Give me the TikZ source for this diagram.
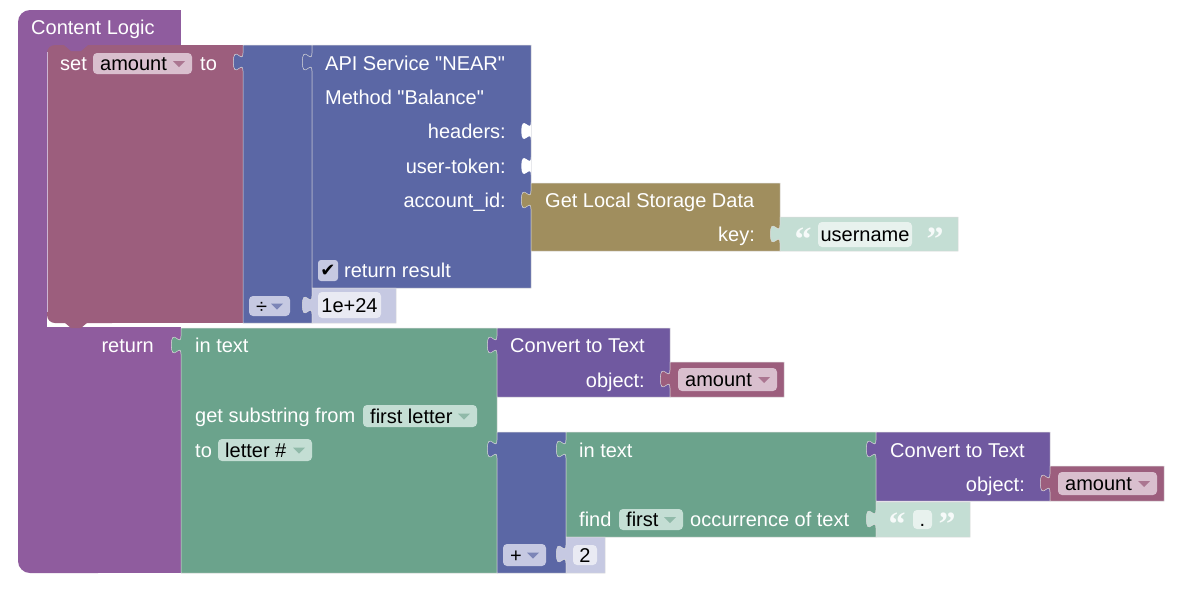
\documentclass[tikz,border=0pt]{standalone}
\usepackage{fontspec}
\newfontfamily\mainf{Liberation Sans}
\newfontfamily\symfont{DejaVu Sans}
\newfontfamily\qfont{Liberation Serif}
\newcommand\blkfont{\mainf\fontsize{20}{24}\selectfont}
\definecolor{clP}{HTML}{8F5C9E}
\definecolor{setM}{HTML}{9C5E7D}
\definecolor{mathB}{HTML}{5B67A5}
\definecolor{shB}{HTML}{C6C9E2}
\definecolor{fldB}{HTML}{E9EAF3}
\definecolor{olv}{HTML}{A08E5E}
\definecolor{shG}{HTML}{C4DED4}
\definecolor{fldG}{HTML}{E8F2EE}
\definecolor{txtG}{HTML}{6BA38C}
\definecolor{cvP}{HTML}{7059A0}
\definecolor{ddM}{HTML}{D9BFCE}
\definecolor{ddG}{HTML}{C4DED4}
\definecolor{ddB}{HTML}{C6C9E2}
\tikzset{
  blk/.style={draw=black!14, line width=0.5pt},
  lbl/.style={text=white, anchor=base west, inner sep=0pt, font=\blkfont},
  lblr/.style={lbl, anchor=base east},
  ftxt/.style={text=black, inner sep=0pt, font=\blkfont, anchor=base west},
  fctr/.style={text=black, inner sep=0pt, font=\blkfont, anchor=base},
  qmark/.style={text=white!85!shG, inner sep=0pt, font=\qfont\bfseries\fontsize{34}{36}\selectfont, anchor=base},
}
% value block with output tab: colour x1 y1 x2 y2
\newcommand\vblk[5]{%
  \path[blk, fill=#1] (#2,#3) -- (#4,#3) -- (#4,#5) -- (#2,#5) -- (#2,#3+26)
    .. controls (#2,#3+14) and (#2-9.6,#3+35.6) .. (#2-9.6,#3+17)
    .. controls (#2-9.6,#3-1.6) and (#2,#3+20) .. (#2,#3+8) -- cycle;}
% empty socket on a right edge: x top
\newcommand\sockt[2]{%
  \fill[white] (#1,#2) .. controls (#1,#2+12) and (#1-9.6,#2-9.6) .. (#1-9.6,#2+9)
    .. controls (#1-9.6,#2+27.6) and (#1,#2+6) .. (#1,#2+18) -- cycle;}
% dropdown: name x1 y1 x2 y2 fill tri text
\newcommand\dd[8]{%
  \fill[#6, rounded corners=4pt] (#2,#3) rectangle (#4,#5);
  \node[ftxt] (#1) at (#2+7,{(#3+#5)/2+7}) {#8};
  \fill[#7] (#4-19,{(#3+#5)/2-2.5}) -- (#4-7,{(#3+#5)/2-2.5}) -- (#4-13,{(#3+#5)/2+3.5}) -- cycle;}
% text field: name x1 y1 x2 y2 fill text
\newcommand\fld[7]{%
  \fill[#6, rounded corners=4pt] (#2,#3) rectangle (#4,#5);
  \node[fctr] (#1) at ({(#2+#4)/2},{(#3+#5)/2+7}) {#7};}
\begin{document}
\begin{tikzpicture}[x=1pt, y=-1pt]
\useasboundingbox (0,0) rectangle (1182,590);
\fill[white] (0,0) rectangle (1182,590);
% Content Logic block
\fill[clP, rounded corners=12pt] (18,10) rectangle (110,573);
\fill[clP] (60,10) rectangle (181,573);
\fill[white] (47,290) rectangle (181,327);
\node[lbl] (cl) at (31,34) {Content Logic};
% set block
\fill[setM, rounded corners=8pt] (47,45) rectangle (120,323);
\fill[setM] (90,45) rectangle (243,323);
\draw[white!55!clP, line width=0.8pt] (47.2,52) -- (47.2,312);
\fill[clP] (64,45) -- (71,51) -- (81,51) -- (88,45) -- cycle;
\fill[setM] (64,322) -- (71,328) -- (81,328) -- (88,322) -- cycle;
\node[lbl] (set) at (60,70) {set};
\dd{amt0}{93}{53}{192}{74}{ddM}{setM!85!white}{amount}
\node[lbl] (to0) at (200,70) {to};
% division block
\vblk{mathB}{243}{45}{312}{323}
\dd{div}{249}{296}{290}{316}{ddB}{mathB!80!white}{÷}
% API block
\vblk{mathB}{312}{45}{531}{288}
\sockt{531}{122}
\sockt{531}{157}
\node[lbl] (api) at (325,70) {API Service "NEAR"};
\node[lbl] (meth) at (325,104) {Method "Balance"};
\node[lblr] (hdr) at (506,138) {headers:};
\node[lblr] (utok) at (506,173) {user-token:};
\node[lblr] (acc) at (506,207) {account\_id:};
\fill[shB, rounded corners=3pt] (318,260) rectangle (338,281);
\node[inner sep=0pt, text=black, font=\symfont\fontsize{18}{18}\selectfont] (chk) at (328,270.5) {✔};
\node[lbl] (ret) at (344,277) {return result};
% 1e+24
\vblk{shB}{312}{288}{396}{323}
\fld{num}{318}{292}{381}{318}{fldB}{1e+24}
% local storage
\vblk{olv}{531}{183}{780}{251}
\node[lbl] (gls) at (545,207) {Get Local Storage Data};
\node[lblr] (key) at (755,241) {key:};
\vblk{shG}{780}{217}{958}{251}
\node[qmark] (q1) at (803,250) {“};
\node[qmark] (q2) at (935,250) {”};
\fld{user}{818}{222}{912}{247}{fldG}{username}
% return + substring
\node[lblr] (rtn) at (154,352) {return};
\vblk{txtG}{181}{328}{497}{573}
\node[lbl] (it1) at (195,352) {in text};
\node[lbl] (gsf) at (195,422) {get substring from};
\dd{fl}{363}{405}{477}{427}{ddG}{txtG!75!white}{first letter}
\node[lbl] (to1) at (195,457) {to};
\dd{ln}{218}{439}{312}{461}{ddG}{txtG!75!white}{letter \#}
% convert 1
\vblk{cvP}{497}{328}{670}{397}
\node[lbl] (ct1) at (510,352) {Convert to Text};
\node[lblr] (ob1) at (645,387) {object:};
\vblk{setM}{670}{362}{784}{397}
\dd{amt1}{678}{368}{777}{391}{ddM}{setM!85!white}{amount}
% plus block
\vblk{mathB}{497}{432}{566}{573}
\dd{plus}{503}{544}{546}{566}{ddB}{mathB!80!white}{+}
% indexOf
\vblk{txtG}{566}{432}{876}{537}
\node[lbl] (it2) at (579,457) {in text};
\node[lbl] (find) at (579,526) {find};
\dd{fst}{619}{509}{683}{530}{ddG}{txtG!75!white}{first}
\node[lbl] (occ) at (690,526) {occurrence of text};
% convert 2
\vblk{cvP}{876}{432}{1050}{501}
\node[lbl] (ct2) at (890,457) {Convert to Text};
\node[lblr] (ob2) at (1025,491) {object:};
\vblk{setM}{1050}{466}{1164}{501}
\dd{amt2}{1058}{472}{1157}{495}{ddM}{setM!85!white}{amount}
% dot text
\vblk{shG}{876}{502}{970}{537}
\node[qmark] (q3) at (897,535) {“};
\node[qmark] (q4) at (947,535) {”};
\fld{dot}{913}{510}{932}{529}{fldG}{.}
% 2
\vblk{shB}{566}{537}{605}{573}
\fld{two}{573}{545}{597}{565}{fldB}{2}
\end{tikzpicture}
\end{document}
